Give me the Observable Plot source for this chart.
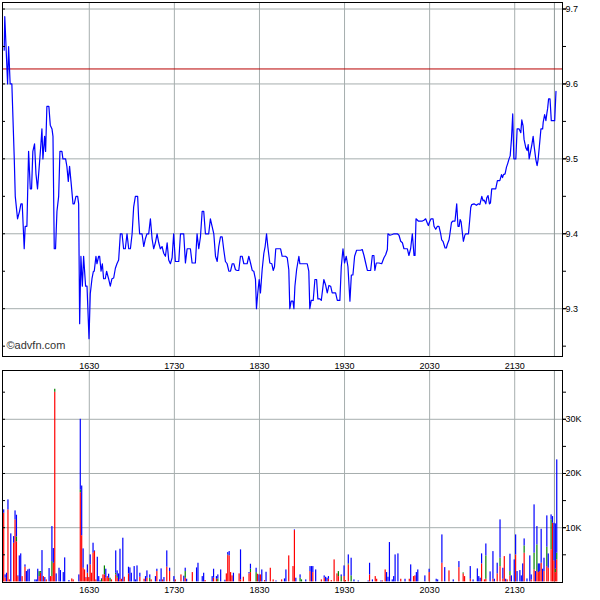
<!DOCTYPE html>
<html><head><meta charset="utf-8">
<script src="https://cdn.jsdelivr.net/npm/d3@7"></script>
<script src="https://cdn.jsdelivr.net/npm/@observablehq/plot@0.6"></script>
<style>
html,body{margin:0;padding:0;background:#fff;}
#chart{position:relative;width:600px;height:600px;font-family:"Liberation Sans",Arial,sans-serif;}
#price{position:absolute;left:0;top:0;}
#volume{position:absolute;left:0;top:360px;}
</style></head><body>
<div id="chart"><div id="price"></div><div id="volume"></div></div>
<script>
// time = minutes after 15:30
const hourTicks = [60, 120, 180, 240, 300, 360];
const hourLabels = ["1630", "1730", "1830", "1930", "2030", "2130"];
const priceTicks = [9.3, 9.4, 9.5, 9.6, 9.7];
const priceMinorTicks = [9.25, 9.3, 9.35, 9.4, 9.45, 9.5, 9.55, 9.6, 9.65, 9.7];
const prevClose = 9.62;
const lastTradeT = 388;
const volTicks = [10000, 20000, 30000];
const volLabels = ["10K", "20K", "30K"];
const volMinorTicks = [5000, 10000, 15000, 20000, 25000, 30000, 35000];
const copyright = "©advfn.com";

// [minute, price]
const pricePoints = [
[0,9.645],[0.4,9.69],[2.4,9.60],[3.1,9.65],[4.2,9.60],[5.4,9.60],[7.1,9.50],[7.8,9.45],[9.4,9.42],[10.8,9.43],[11.8,9.44],[12.7,9.44],[14.1,9.38],[14.8,9.41],[16.0,9.41],[17.2,9.51],[18.4,9.46],[19.3,9.46],[20.2,9.51],[21.4,9.52],[22.4,9.48],[23.5,9.46],[24.7,9.49],[25.9,9.52],[26.6,9.54],[27.3,9.50],[28.5,9.53],[29.2,9.51],[30.1,9.57],[31.5,9.57],[32.5,9.545],[33.7,9.54],[34.4,9.53],[35.3,9.38],[36.2,9.38],[37.2,9.43],[38.4,9.45],[39.3,9.51],[40.7,9.51],[41.4,9.50],[43.3,9.50],[44.2,9.49],[45.2,9.47],[46.1,9.49],[47.1,9.47],[48.5,9.44],[49.4,9.44],[50.6,9.45],[51.8,9.45],[52.5,9.44],[53.2,9.28],[54.1,9.37],[55.1,9.33],[56.0,9.37],[57.4,9.33],[58.4,9.33],[59.8,9.26],[60.7,9.32],[61.9,9.34],[62.9,9.35],[63.5,9.35],[64.7,9.37],[65.4,9.36],[66.6,9.37],[67.3,9.37],[68.3,9.35],[69.2,9.36],[70.1,9.34],[71.3,9.34],[72.2,9.35],[73.6,9.34],[74.8,9.33],
[76.0,9.34],[77.2,9.341],[78.4,9.354],[79.5,9.36],[80.7,9.365],[81.9,9.40],[83.1,9.40],[84.2,9.38],[85.4,9.38],[86.6,9.40],[87.8,9.38],[89.0,9.38],[90.2,9.40],[91.3,9.436],[92.5,9.45],[94.1,9.45],[94.8,9.42],[95.5,9.40],[97.2,9.40],[98.4,9.383],[99.5,9.393],[100.7,9.40],[101.9,9.40],[103.1,9.42],[104.3,9.393],[105.4,9.38],[106.6,9.388],[107.8,9.40],[109.0,9.388],[110.1,9.38],[111.3,9.383],[112.5,9.374],[113.7,9.37],[114.9,9.388],[116.0,9.365],[117.2,9.36],[118.4,9.368],[119.5,9.40],[120.7,9.363],[123.1,9.363],[124.3,9.40],[126.6,9.40],[127.8,9.361],[129.0,9.38],[131.3,9.38],[132.5,9.361],[134.8,9.361],[136.0,9.40],[137.2,9.38],[138.4,9.396],[139.6,9.43],[140.7,9.43],[141.9,9.40],[144.2,9.40],[145.4,9.42],[146.6,9.41],[147.8,9.40],[149.0,9.37],[150.2,9.363],[151.3,9.383],[152.5,9.396],[153.7,9.396],[154.8,9.379],[156.0,9.363],[157.2,9.36],[158.4,9.35],[159.6,9.35],[160.8,9.36],[161.9,9.36],[163.1,9.352],
[164.3,9.351],[165.4,9.351],[166.6,9.37],[167.8,9.37],[169.0,9.36],[171.3,9.36],[172.5,9.37],[173.7,9.361],[174.9,9.351],[176.0,9.35],[177.2,9.339],[177.9,9.30],[178.8,9.321],[179.8,9.339],[180.7,9.321],[181.9,9.352],[183.1,9.374],[184.0,9.383],[185.0,9.40],[185.9,9.383],[187.3,9.361],[188.7,9.36],[189.7,9.351],[190.6,9.356],[191.5,9.38],[194.9,9.38],[196.0,9.37],[198.4,9.37],[199.6,9.368],[200.7,9.352],[201.4,9.30],[202.4,9.31],[203.6,9.31],[204.3,9.30],[205.0,9.33],[206.2,9.352],[207.8,9.37],[208.5,9.36],[213.7,9.36],[214.8,9.35],[215.5,9.30],[216.5,9.311],[217.9,9.311],[219.1,9.339],[220.3,9.339],[221.2,9.313],[222.6,9.313],[223.6,9.311],[225.4,9.339],[226.6,9.332],[227.8,9.321],[229.0,9.331],[230.2,9.33],[231.3,9.321],[233.7,9.321],[234.9,9.311],[236.7,9.311],[237.7,9.356],[238.9,9.38],[240.0,9.361],[241.2,9.37],[242.4,9.356],[243.8,9.31],[244.8,9.345],[245.9,9.345],[247.1,9.37],[248.5,9.378],[251.3,9.378],
[252.5,9.379],[253.7,9.371],[254.9,9.361],[256.1,9.351],[258.4,9.351],[259.6,9.371],[260.7,9.371],[261.4,9.351],[262.4,9.361],[264.3,9.361],[266.2,9.36],[267.8,9.368],[269.0,9.372],[270.2,9.379],[270.6,9.40],[272.0,9.398],[273.7,9.399],[274.9,9.40],[277.2,9.40],[278.4,9.398],[279.6,9.39],[280.8,9.388],[281.9,9.38],[284.3,9.38],[285.4,9.371],[286.6,9.38],[287.8,9.40],[289.0,9.371],[289.7,9.371],[290.4,9.42],[292.0,9.417],[294.9,9.417],[296.0,9.418],[297.2,9.42],[298.4,9.414],[299.1,9.411],[300.0,9.416],[301.0,9.42],[302.4,9.42],[303.1,9.41],[304.3,9.406],[305.5,9.41],[306.6,9.41],[307.8,9.40],[308.5,9.392],[309.4,9.39],[310.9,9.381],[311.8,9.381],[312.5,9.386],[313.7,9.392],[314.4,9.401],[315.4,9.415],[316.5,9.417],[317.9,9.417],[319.1,9.44],[320.0,9.41],[320.8,9.41],[321.5,9.419],[322.2,9.416],[323.1,9.401],[323.8,9.39],[324.8,9.398],[325.5,9.40],[327.4,9.40],[328.3,9.419],[329.0,9.435],[329.7,9.439],[331.3,9.44],[333.0,9.438],[334.4,9.44],[335.4,9.439],[336.8,9.45],[337.7,9.444],[338.4,9.445],[339.6,9.44],[340.3,9.448],[341.2,9.451],[342.2,9.44],[342.9,9.441],[343.8,9.46],[346.6,9.46],[347.8,9.471],[349.5,9.471],[350.7,9.479],[351.4,9.475],[352.1,9.479],[353.2,9.48],[354.2,9.489],[355.1,9.494],[356.0,9.50],[356.8,9.504],[357.7,9.526],[358.6,9.56],[359.4,9.50],[360.8,9.50],[361.7,9.54],[363.1,9.54],[364.3,9.535],[365.0,9.552],[365.9,9.544],[366.6,9.526],[367.8,9.515],[368.8,9.511],[369.5,9.519],[370.2,9.50],[371.4,9.512],[372.1,9.519],[373.0,9.53],[373.7,9.517],[374.9,9.499],[375.8,9.491],[376.5,9.499],[377.3,9.515],[378.5,9.54],[379.7,9.54],[380.1,9.549],[381.1,9.559],[382.0,9.551],[382.7,9.561],[383.2,9.567],[383.9,9.58],[384.9,9.58],[385.8,9.551],[388.2,9.551],[389.1,9.59]
];

// [minute, red volume, green volume, blue volume]
const volBars = [
[0,12670,0,620],[1,680,0,620],[2,0,0,1600],[3,13280,0,1850],[4,370,0,0],[5,0,0,8860],[7,7130,0,1230],[8,11440,0,1660],[9,7400,900,4000],[10,980,0,120],[11,0,0,4800],[12,0,0,5170],[13,980,0,0],[15,2710,0,430],[16,0,0,1910],[17,0,0,2210],[18,0,0,2340],[22,0,0,370],[23,0,0,370],[24,0,0,2340],[25,980,920,0],[26,1600,310,0],[27,0,0,5780],[28,980,0,0],[29,0,0,800],[30,370,0,0],[32,0,0,2460],[33,980,0,0],[34,980,2770,6460],[35,3440,0,2710],[36,34980,560,0],[37,0,0,1480],[39,0,0,2520],[40,0,0,2090],[42,0,0,1720],[43,0,0,4430],[46,0,0,250],[48,550,0,0],[49,370,0,0],
[53,0,0,1290],[54,16460,490,13050],[55,8520,0,9170],[56,2520,0,3570],[57,2210,0,0],[58,680,0,120],[59,1600,0,1540],[60,800,0,0],[61,3140,0,1850],[62,1600,0,0],[63,5290,0,1850],[64,5600,0,120],[65,370,0,0],[66,0,0,4550],[67,0,0,980],[68,0,0,180],[69,0,490,120],[70,1290,0,0],[71,1290,1660,0],[72,680,0,1660],[73,980,0,0],[74,680,0,740],[75,0,680,0],[76,370,0,0],[79,1290,310,4120],[80,680,310,1050],[81,0,0,1480],[82,370,0,5660],[83,490,0,0],[84,0,0,8060],[85,860,0,0],[88,1480,0,1230],[89,0,0,2580],[90,0,0,1600],[92,0,0,2830],[93,0,0,370],[94,0,0,2950],[96,860,0,740],[99,490,0,0],
[100,0,0,980],[101,680,0,1350],[103,0,680,620],[104,370,0,0],[107,0,0,980],[108,1910,0,430],[110,0,0,370],[111,0,0,2400],[112,370,0,0],[113,0,0,800],[115,2710,0,3010],[117,1910,0,620],[120,0,0,980],[121,370,0,0],[125,1290,0,0],[127,0,0,1050],[128,680,1230,620],[129,0,0,490],[133,1720,0,0],[136,0,0,2580],[137,0,0,3440],[140,0,0,980],[141,0,0,1600],[142,250,0,0],[147,0,0,980],[148,680,0,1660],
[150,490,0,490],[151,0,550,740],[153,0,0,2210],[156,0,0,310],[157,1480,0,0],[158,4860,120,430],[159,4800,0,800],[160,1720,0,0],[161,1110,0,0],[162,0,0,1600],[166,1480,0,0],[167,370,0,5540],[169,860,0,0],[173,1480,0,250],[174,1720,620,920],[178,0,1720,800],[179,1410,0,0],[180,0,0,1290],[181,1290,0,0],[182,0,0,2210],[184,250,0,0],[185,0,0,1780],[188,2520,0,0],[190,370,0,0],[192,0,0,180],[196,370,0,0],[198,0,0,550],[199,0,0,2210],
[201,4800,0,0],[204,2830,0,0],[205,9470,0,120],[206,0,0,680],[209,0,680,620],[210,0,370,0],[213,0,0,370],[216,1910,0,920],[217,0,0,2830],[218,1720,0,1110],[220,0,0,2210],[224,370,0,0],[226,680,0,430],[227,0,0,860],[228,0,0,680],[229,490,0,490],[231,250,0,0],[233,4060,0,0],[235,1480,0,0],[236,980,920,0],[238,0,980,310],[240,980,0,1970],[241,250,0,0],[243,3140,180,1660],[245,0,1110,3260],[247,0,0,370],
[250,0,0,180],[257,0,0,180],[258,1290,0,2150],[260,0,0,370],[262,980,0,0],[263,490,0,0],[266,0,0,180],[267,180,0,0],[269,2210,0,0],[270,0,0,1720],[271,0,0,860],[272,0,0,7260],[274,0,0,370],[275,0,0,980],[276,0,0,4980],[278,0,0,5170],[280,490,0,0],[283,0,0,490],[286,490,0,0],[287,0,0,3140],[289,980,0,0],[290,1110,0,0],[291,0,0,1720],[292,0,0,2210],[297,0,0,1110],
[300,1720,0,620],[305,0,0,490],[306,0,0,370],[309,3440,0,5230],[311,0,0,2640],[314,2030,0,0],[317,0,0,370],[321,2640,0,1110],[324,1480,180,0],[325,980,0,0],[329,490,0,2340],[331,0,0,370],[334,0,0,2400],[335,0,0,980],[336,0,0,680],[337,3320,0,1850],[339,370,0,0],[340,490,4300,2210],[343,0,0,1850],[345,490,0,5100],[346,0,0,490],[348,1480,0,1970],
[350,2830,1540,7070],[352,490,0,2030],[353,4670,0,0],[354,0,0,490],[355,370,0,0],[357,1110,800,3200],[358,0,0,1110],[360,0,0,4060],[361,4980,0,3690],[362,0,0,1910],[364,0,0,2090],[365,0,0,1110],[366,0,0,3320],[367,5290,1350,1290],[369,0,0,550],[371,0,0,4800],[372,370,0,920],[374,2210,3080,8920],[375,0,0,1910],[376,1910,4920,3380],[377,1720,0,1600],[378,1910,0,1410],[379,3440,0,6270],[380,0,0,2340],[381,1910,0,2460],[383,2830,3570,5780],[384,2520,0,2640],[386,5900,5540,920],[387,10820,0,1230],[388,3870,0,6950],[389,1720,620,8360],[390,4060,1230,17220]
];

const kinds = ["red", "green", "blue"];
const kindColors = ["#ff0000", "#00c800", "#0000ff"];

// stack the three parts of each bar
const volSegments = [];
volBars.forEach(([t, r, g, b]) => {
  let base = 0;
  [r, g, b].forEach((v, k) => {
    if (v > 0) volSegments.push({t, kind: kinds[k], y1: base, y2: base + v});
    base += v;
  });
});

const xDomain = [-1.2, 393.7];
const gridColor = "#a6aeae";
const nowColor = "#8f9898";
const font = {fontFamily: "'Liberation Sans', Arial, sans-serif", fontSize: "9px", background: "#fff", color: "#000"};

const pricePlot = Plot.plot({
  width: 600, height: 360,
  marginLeft: 2, marginRight: 38, marginTop: 2, marginBottom: 4,
  style: font,
  x: {domain: xDomain, axis: null},
  y: {domain: [9.2362, 9.7087], label: null},
  marks: [
    Plot.gridX(hourTicks, {stroke: gridColor, strokeOpacity: 1}),
    Plot.gridY(priceTicks, {stroke: gridColor, strokeOpacity: 1}),
    Plot.ruleX([lastTradeT], {stroke: nowColor}),
    Plot.ruleY([prevClose], {stroke: "#b80000"}),
    Plot.line(pricePoints, {x: d => d[0], y: d => d[1], stroke: "#0000ff", strokeWidth: 1.2}),
    Plot.frame({stroke: "#000"}),
    Plot.axisY(priceMinorTicks, {anchor: "right", tickSize: 3, tickFormat: () => "", label: null}),
    Plot.axisY(priceMinorTicks, {anchor: "left", tickSize: 3, dx: 3, tickFormat: () => "", label: null}),
    Plot.axisY(priceTicks, {anchor: "right", tickSize: 3, tickPadding: 0, tickFormat: d => d.toFixed(1), label: null}),
    Plot.text([copyright], {frameAnchor: "bottom-left", text: d => d, textAnchor: "start", dx: 4, dy: -8, fontSize: 11, fill: "#333"})
  ]
});

const volumePlot = Plot.plot({
  width: 600, height: 240,
  marginLeft: 2, marginRight: 38, marginTop: 10, marginBottom: 18,
  style: font,
  x: {domain: xDomain, label: null},
  y: {domain: [-110, 39000], label: null},
  color: {domain: kinds, range: kindColors},
  marks: [
    Plot.gridX(hourTicks, {stroke: gridColor, strokeOpacity: 1}),
    Plot.gridY(volTicks, {stroke: gridColor, strokeOpacity: 1}),
    Plot.ruleX([lastTradeT], {stroke: nowColor}),
    Plot.rect(volSegments, {x1: d => d.t - 0.42, x2: d => d.t + 0.42, y1: "y1", y2: "y2", fill: "kind"}),
    Plot.frame({stroke: "#000"}),
    Plot.axisX(hourTicks, {anchor: "top", tickSize: 0, tickPadding: 2, tickFormat: d => hourLabels[hourTicks.indexOf(d)], label: null}),
    Plot.axisX(hourTicks, {anchor: "bottom", tickSize: 0, tickPadding: 4, tickFormat: d => hourLabels[hourTicks.indexOf(d)], label: null}),
    Plot.axisY(volMinorTicks, {anchor: "right", tickSize: 3, tickFormat: () => "", label: null}),
    Plot.axisY(volMinorTicks, {anchor: "left", tickSize: 3, dx: 3, tickFormat: () => "", label: null}),
    Plot.axisY(volTicks, {anchor: "right", tickSize: 3, tickPadding: 0, tickFormat: d => volLabels[volTicks.indexOf(d)], label: null})
  ]
});

document.getElementById("price").appendChild(pricePlot);
document.getElementById("volume").appendChild(volumePlot);
</script></body></html>
